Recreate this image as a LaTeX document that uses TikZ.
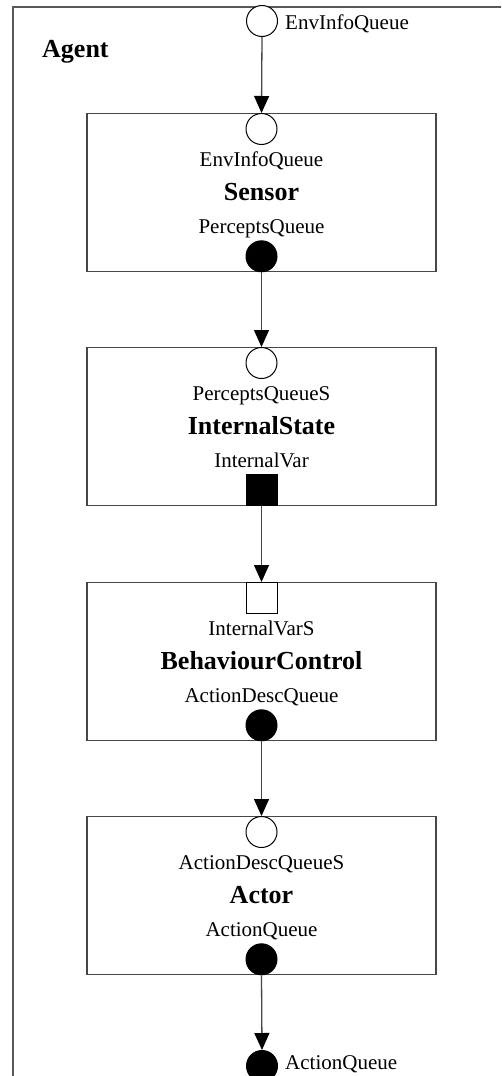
\documentclass[tikz,border=0pt]{standalone}
\usepackage{fontspec}
\setmainfont{Liberation Serif}
\usetikzlibrary{arrows.meta,calc}
\begin{document}
\begin{tikzpicture}[x=1pt,y=-1pt,
  lbl/.style={font=\fontsize{21}{25}\selectfont, inner sep=0pt, anchor=base},
  ttl/.style={font=\fontsize{26}{30}\selectfont\bfseries, inner sep=0pt, anchor=base},
  block/.style={draw=black!72, line width=1.3pt, rectangle, minimum width=349pt,
                minimum height=158pt, inner sep=0pt, anchor=north},
  inport/.style={draw=black, line width=1pt, fill=white, circle, minimum size=31pt, inner sep=0pt},
  outport/.style={draw=black, line width=1pt, fill=black, circle, minimum size=31pt, inner sep=0pt},
  insq/.style={draw=black, line width=1pt, fill=white, rectangle, minimum size=31pt, inner sep=0pt},
  outsq/.style={draw=black, line width=1pt, fill=black, rectangle, minimum size=31pt, inner sep=0pt},
  flow/.style={draw=black!72, line width=1.3pt,
               -{Triangle[length=17pt,width=15pt,color=black]}}]
  \useasboundingbox (0,0) rectangle (501,1076);
  \clip (0,0) rectangle (501,1076);
  \fill[white] (0,0) rectangle (501,1076);

  % agent frame
  \draw[black!65, line width=1.8pt] (13,7) rectangle (540,1120);
  \node[ttl, anchor=base west] (agent) at (42,57) {Agent};

  % external ports
  \node[inport] (envq) at (262,21) {};
  \node[lbl, anchor=base west] (envqL) at (285,29) {EnvInfoQueue};
  \node[outport] (actq) at (262,1066) {};
  \node[lbl, anchor=base west] (actqL) at (285,1069) {ActionQueue};

  % Sensor
  \node[block] (sens) at (261.5,113) {};
  \node[inport, anchor=north] (sensIn) at (sens.north) {};
  \node[outport, anchor=south] (sensOut) at (sens.south) {};
  \node[lbl] (sensA) at ($(sens.north)+(0,53)$) {EnvInfoQueue};
  \node[ttl] (sensT) at ($(sens.north)+(0,87)$) {Sensor};
  \node[lbl] (sensB) at ($(sens.north)+(0,120)$) {PerceptsQueue};

  % InternalState
  \node[block] (ist) at (261.5,347) {};
  \node[inport, anchor=north] (istIn) at (ist.north) {};
  \node[outsq, anchor=south] (istOut) at (ist.south) {};
  \node[lbl] (istA) at ($(ist.north)+(0,53)$) {PerceptsQueueS};
  \node[ttl] (istT) at ($(ist.north)+(0,87)$) {InternalState};
  \node[lbl] (istB) at ($(ist.north)+(0,120)$) {InternalVar};

  % BehaviourControl
  \node[block] (bc) at (261.5,582) {};
  \node[insq, anchor=north] (bcIn) at (bc.north) {};
  \node[outport, anchor=south] (bcOut) at (bc.south) {};
  \node[lbl] (bcA) at ($(bc.north)+(0,53)$) {InternalVarS};
  \node[ttl] (bcT) at ($(bc.north)+(0,87)$) {BehaviourControl};
  \node[lbl] (bcB) at ($(bc.north)+(0,120)$) {ActionDescQueue};

  % Actor
  \node[block] (act) at (261.5,816) {};
  \node[inport, anchor=north] (actIn) at (act.north) {};
  \node[outport, anchor=south] (actOut) at (act.south) {};
  \node[lbl] (actA) at ($(act.north)+(0,53)$) {ActionDescQueueS};
  \node[ttl] (actT) at ($(act.north)+(0,87)$) {Actor};
  \node[lbl] (actB) at ($(act.north)+(0,120)$) {ActionQueue};

  % data flow
  \draw[flow] (envq.south) -- (sensIn.north);
  \draw[flow] (sensOut.south) -- (istIn.north);
  \draw[flow] (istOut.south) -- (bcIn.north);
  \draw[flow] (bcOut.south) -- (actIn.north);
  \draw[flow] (actOut.south) -- (actq.north);
\end{tikzpicture}
\end{document}
